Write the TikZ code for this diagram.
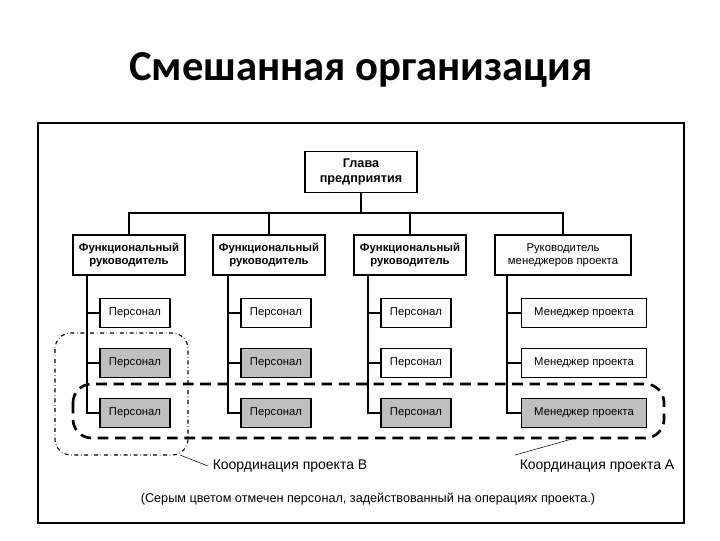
\documentclass[tikz,border=0pt]{standalone}
\usepackage{fontspec}
\setmainfont{Liberation Sans}
\newfontfamily\titlefont{Carlito}
\begin{document}
\begin{tikzpicture}[x=0.75pt,y=-0.75pt,
  box/.style={draw,thick,fill=white,font=\fontsize{8.5}{10}\selectfont,align=center,inner sep=0pt},
  staff/.style={box,minimum width=52.5pt,minimum height=22pt},
  gray/.style={fill=black!25},
  boss/.style={box,font=\fontsize{8.5}{10}\bfseries\selectfont,minimum width=84pt,minimum height=30pt}]
\useasboundingbox (0,0) rectangle (720,540);
\node[font=\titlefont\fontsize{32}{36}\bfseries\selectfont] (title) at (361,70) {Смешанная организация};
\draw[line width=1.5pt] (38,123) rectangle (684,523);
\node[boss,minimum height=31pt,font=\fontsize{9.5}{11}\bfseries\selectfont] (head) at (361,172) {Глава\\предприятия};
\node[boss] (f1) at (129,255) {Функциональный\\руководитель};
\node[boss] (f2) at (269,255) {Функциональный\\руководитель};
\node[boss] (f3) at (410,255) {Функциональный\\руководитель};
\node[boss,minimum width=102pt,font=\fontsize{8.5}{10}\selectfont] (f4) at (563,255) {Руководитель\\менеджеров проекта};
\coordinate (hub) at (361,213);
\draw[thick] (head) -- (hub);
\foreach \f in {f1,f2,f3,f4}
  \draw[thick] (hub) -| (\f.north);
\foreach \c/\x/\s in {1/135/{,gray,gray},2/276/{,gray,gray},3/416/{,,gray}}{
  \foreach \g [count=\r] in \s{
    \node[staff,\g] (p\c\r) at (\x,313+50*\r-50) {Персонал};
  }
  \coordinate (v\c) at (\x-48,275);
  \draw[thick] (v\c) |- (p\c3.west);
  \draw[thick] (p\c1.west) -- (p\c1.west -| v\c);
  \draw[thick] (p\c2.west) -- (p\c2.west -| v\c);
}
\foreach \g [count=\r] in {,,gray}
  \node[staff,minimum width=94pt,\g] (m\r) at (584,313+50*\r-50) {Менеджер проекта};
\coordinate (v4) at (507,275);
\draw[thick] (v4) |- (m3.west);
\draw[thick] (m1.west) -- (m1.west -| v4);
\draw[thick] (m2.west) -- (m2.west -| v4);
\draw[dash dot,thick,rounded corners=12] (55,333) rectangle (188,455);
\draw[line width=2pt,dash pattern=on 8pt off 5pt,rounded corners=14] (73,384) rectangle (664,438);
\node[font=\fontsize{10.5}{12}\selectfont] (labB) at (290,466) {Координация проекта В};
\node[font=\fontsize{10.5}{12}\selectfont] (labA) at (597,466) {Координация проекта А};
\coordinate (tipB) at (180,455);
\coordinate (tipA) at (572,439);
\draw (tipB) -- (labB.west);
\draw (tipA) -- (labA.north west);
\node[font=\fontsize{9.5}{11}\selectfont] (note) at (368,499) {(Серым цветом отмечен персонал, задействованный на операциях проекта.)};
\end{tikzpicture}
\end{document}
